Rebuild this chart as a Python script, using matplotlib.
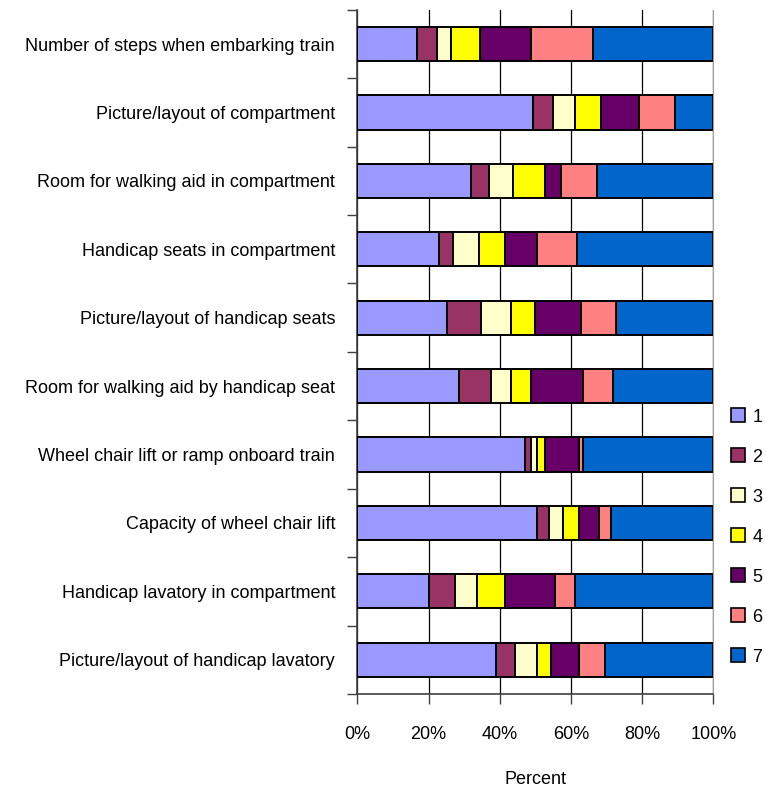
import logging

import matplotlib
matplotlib.use("Agg")
import matplotlib.pyplot as plt
from matplotlib import font_manager
from matplotlib.patches import Patch
import numpy as np

logging.basicConfig(level=logging.INFO, format="%(levelname)s - %(message)s")

# categories, top to bottom
questions = [
    "Number of steps when embarking train",
    "Picture/layout of compartment",
    "Room for walking aid in compartment",
    "Handicap seats in compartment",
    "Picture/layout of handicap seats",
    "Room for walking aid by handicap seat",
    "Wheel chair lift or ramp onboard train",
    "Capacity of wheel chair lift",
    "Handicap lavatory in compartment",
    "Picture/layout of handicap lavatory",
]

# percent of answers per rating (1..7), same order as questions
rating_1 = [16.7, 49.3, 31.8, 23.0, 25.3, 28.7, 47.0, 50.6, 20.2, 39.1]
rating_2 = [5.6, 5.8, 5.1, 4.0, 9.5, 8.9, 1.9, 3.3, 7.3, 5.3]
rating_3 = [3.9, 6.1, 6.7, 7.3, 8.5, 5.7, 1.7, 4.0, 6.2, 6.2]
rating_4 = [8.4, 7.3, 9.1, 7.3, 6.7, 5.6, 2.0, 4.5, 7.9, 3.7]
rating_5 = [14.2, 10.7, 4.4, 9.0, 12.9, 14.6, 9.8, 5.6, 14.0, 8.1]
rating_6 = [17.3, 10.1, 10.2, 11.2, 9.8, 8.4, 1.1, 3.3, 5.6, 7.3]
rating_7 = [33.9, 10.7, 32.7, 38.2, 27.3, 28.1, 36.5, 28.7, 38.8, 30.3]

rating_labels = ["1", "2", "3", "4", "5", "6", "7"]
xtick_values = [0, 20, 40, 60, 80, 100]

COLORS = ["#9999FF", "#993366", "#FFFFCC", "#FFFF00", "#660066", "#FF8080", "#0066CC"]
W, H = 766, 791


def pick_font():
    names = {f.name for f in font_manager.fontManager.ttflist}
    if "Liberation Sans Narrow" in names:
        return "Liberation Sans Narrow", 15
    logging.info("Narrow font missing, falling back to Liberation Sans")
    return "Liberation Sans", 13


def main() -> None:
    family, size = pick_font()
    plt.rcParams["font.family"] = [family, "DejaVu Sans"]

    fig = plt.figure(figsize=(W / 100, H / 100), dpi=100)
    ax = fig.add_axes([357.3 / W, 1 - 694 / H, (713.3 - 357.3) / W, (694 - 9.8) / H])

    series = [rating_1, rating_2, rating_3, rating_4, rating_5, rating_6, rating_7]
    y = np.arange(len(questions))
    left = np.zeros(len(questions))
    for vals, color, lab in zip(series, COLORS, rating_labels):
        vals = np.array(vals)
        ax.barh(y, vals, left=left, height=0.5, color=color, edgecolor="black",
                linewidth=1.4, label=lab, zorder=3)
        left += vals

    ax.set_xlim(0, 100)
    ax.set_ylim(len(questions) - 0.5, -0.5)

    # vertical gridlines
    ax.set_xticks(xtick_values)
    ax.set_xticklabels([f"{v}%" for v in xtick_values], fontsize=size)
    ax.grid(axis="x", color="black", linewidth=0.9, zorder=0)
    ax.tick_params(axis="x", direction="out", length=7, width=1, color="#404040", pad=16)

    # ticks between categories, labels at centres
    ax.set_yticks(np.arange(-0.5, len(questions), 1.0))
    ax.set_yticklabels([])
    ax.set_yticks(y, minor=True)
    ax.set_yticklabels(questions, minor=True, fontsize=size)
    ax.tick_params(axis="y", which="major", direction="out", length=7, width=1, color="#404040")
    ax.tick_params(axis="y", which="minor", length=0, pad=16)

    ax.spines["top"].set_visible(False)
    ax.spines["right"].set_color("#A0A0A0")
    ax.spines["left"].set_color("#404040")
    ax.spines["bottom"].set_color("#404040")
    for side in ("left", "bottom"):
        ax.spines[side].set_linewidth(1.2)

    ax.set_xlabel("Percent", fontsize=size, labelpad=20)

    handles = [Patch(facecolor=c, edgecolor="black", linewidth=1.2) for c in COLORS]
    fig.legend(handles, rating_labels, loc="center left",
               bbox_to_anchor=(731 / W, 1 - 537 / H), frameon=False,
               fontsize=size, handlelength=0.78, handleheight=0.78,
               handletextpad=0.4, labelspacing=1.27, borderpad=0, borderaxespad=0)

    fig.savefig("out.png", dpi=100)
    plt.close(fig)


if __name__ == "__main__":
    main()
